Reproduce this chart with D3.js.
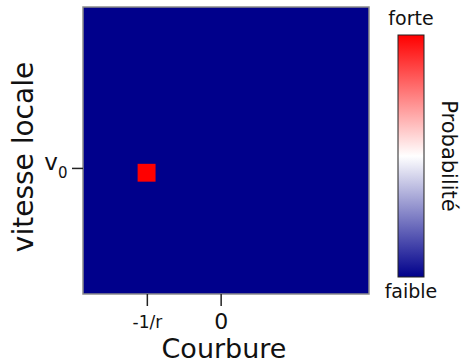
<!DOCTYPE html>
<html>
<head>
<meta charset="utf-8">
<script src="https://cdn.jsdelivr.net/npm/d3@7"></script>
<style>
  body { margin: 0; background: #fff; }
  text { font-family: "DejaVu Sans", sans-serif; fill: #111; }
</style>
</head>
<body>
<div id="chart"></div>
<script>
// curvature in units of 1/r, speed in units of v0
const curvatureRange = [-1.865, 2.01];
const speedRange = [0.385, 1.785];
const curvatureTicks = [-1, 0];
const curvatureLabels = ["-1/r", "0"];
const speedTicks = [1];
// cells with a non-zero probability (everything else is 0)
const hotCellsX0 = [-1.125];
const hotCellsX1 = [-0.882];
const hotCellsY0 = [0.933];
const hotCellsY1 = [1.02];
const hotCellsP = [1];
const colorStops = [0, 0.5, 1];
const colorRange = ["#00008b", "#ffffff", "#ff0000"];

const margin = {top: 7, left: 83, width: 286, height: 287};

const svg = d3.select("#chart")
    .append("svg")
    .attr("width", 465)
    .attr("height", 364);

const x = d3.scaleLinear().domain(curvatureRange).range([0, margin.width]);
const y = d3.scaleLinear().domain(speedRange).range([margin.height, 0]);
const color = d3.scaleLinear().domain(colorStops).range(colorRange);

const g = svg.append("g")
    .attr("transform", "translate(" + margin.left + "," + margin.top + ")");

// background: probability 0 everywhere
g.append("rect")
    .attr("x", x(curvatureRange[0]))
    .attr("y", y(speedRange[1]))
    .attr("width", x(curvatureRange[1]) - x(curvatureRange[0]))
    .attr("height", y(speedRange[0]) - y(speedRange[1]))
    .style("fill", color(0));

const hot = hotCellsP.map((p, i) => ({x0: hotCellsX0[i], x1: hotCellsX1[i], y0: hotCellsY0[i], y1: hotCellsY1[i], p: p}));

g.selectAll(".cell")
    .data(hot)
    .enter()
    .append("rect")
    .attr("class", "cell")
    .attr("x", (d) => x(d.x0))
    .attr("y", (d) => y(d.y1))
    .attr("width", (d) => x(d.x1) - x(d.x0))
    .attr("height", (d) => y(d.y0) - y(d.y1))
    .style("fill", (d) => color(d.p));

// frame
g.append("rect")
    .attr("width", margin.width)
    .attr("height", margin.height)
    .style("fill", "none")
    .style("stroke", "#8c8c8c")
    .style("stroke-width", 1.5);

// x axis
const xAxis = g.append("g")
    .attr("transform", "translate(0," + margin.height + ")")
    .call(d3.axisBottom(x).tickValues(curvatureTicks)
        .tickFormat((d, i) => curvatureLabels[i]).tickSize(12).tickPadding(6));
xAxis.select(".domain").remove();
xAxis.selectAll(".tick line").style("stroke", "#222").style("stroke-width", 1.5);
xAxis.selectAll(".tick text")
    .style("font-family", "DejaVu Sans")
    .style("font-size", (d) => d === 0 ? "22px" : "17px")
    .attr("dy", (d) => d === 0 ? "0.75em" : "0.92em")
    .style("fill", "#111");

// y axis
const yAxis = g.append("g")
    .call(d3.axisLeft(y).tickValues(speedTicks).tickFormat("").tickSize(11).tickPadding(4));
yAxis.select(".domain").remove();
yAxis.selectAll(".tick line").style("stroke", "#222").style("stroke-width", 1.5);
const yLab = yAxis.selectAll(".tick text")
    .attr("x", -15.5)
    .attr("dy", "0.17em")
    .style("font-family", "DejaVu Sans")
    .style("fill", "#111");
yLab.append("tspan").style("font-size", "23px").text("v");
yLab.append("tspan").style("font-size", "15px").attr("dy", "0.55em").text("0");

// axis titles
svg.append("text")
    .attr("x", 224)
    .attr("y", 358)
    .attr("text-anchor", "middle")
    .style("font-size", "27px")
    .text("Courbure");

svg.append("text")
    .attr("transform", "translate(33,157) rotate(-90)")
    .attr("text-anchor", "middle")
    .style("font-size", "28px")
    .text("vitesse locale");

// colour bar
const cb = {x: 398, y: 35, w: 26, h: 242};
const defs = svg.append("defs");
const grad = defs.append("linearGradient")
    .attr("id", "cbar")
    .attr("x1", 0).attr("y1", 1).attr("x2", 0).attr("y2", 0);
grad.selectAll("stop")
    .data(colorStops)
    .enter()
    .append("stop")
    .attr("offset", (d) => d * 100 + "%")
    .attr("stop-color", (d) => color(d));

svg.append("rect")
    .attr("x", cb.x)
    .attr("y", cb.y)
    .attr("width", cb.w)
    .attr("height", cb.h)
    .style("fill", "url(#cbar)")
    .style("stroke", "#222")
    .style("stroke-width", 1);

svg.append("text")
    .attr("x", cb.x + cb.w / 2)
    .attr("y", 25)
    .attr("text-anchor", "middle")
    .style("font-size", "19px")
    .text("forte");

svg.append("text")
    .attr("x", cb.x + cb.w / 2)
    .attr("y", 298)
    .attr("text-anchor", "middle")
    .style("font-size", "19px")
    .text("faible");

svg.append("text")
    .attr("transform", "translate(442,156) rotate(90)")
    .attr("text-anchor", "middle")
    .style("font-size", "21px")
    .text("Probabilité");
</script>
</body>
</html>
